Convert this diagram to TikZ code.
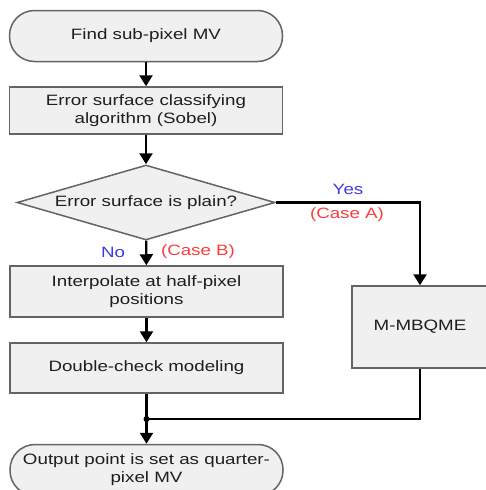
\documentclass[tikz,border=0pt]{standalone}
\usepackage{fontspec}
\setmainfont{Liberation Sans}[FakeStretch=1.25]
\usepackage{xcolor}
\usepackage{tikz}
\usetikzlibrary{shapes.geometric, arrows.meta}
\definecolor{boxFill}{RGB}{240, 240, 240}
\definecolor{boxLine}{RGB}{100, 100, 100}
\definecolor{textColor}{RGB}{30, 30, 30}
\definecolor{yesNoColor}{RGB}{60, 60, 220}
\definecolor{caseColor}{RGB}{250, 60, 60}

\begin{document}
\begin{tikzpicture}[x=1pt, y=-1pt, font=\fontsize{15}{18}\selectfont,
	box/.style={draw=boxLine, fill=boxFill, line width=1.5pt, text=textColor, align=center, inner sep=0pt},
	proc/.style={box, rectangle, minimum width=273pt},
	term/.style={box, rectangle, rounded corners=25pt, minimum width=273pt, minimum height=51pt},
	flow/.style={-{Triangle[length=11pt, width=13pt]}, line width=2.4pt},
	wire/.style={line width=2.4pt}]
					% Page size
					\useasboundingbox (0, 0) rectangle (485, 490);
					
					% Blocks of the chart
					\node[term] (start) at (146, 36) {Find sub-pixel MV};
					\node[proc, minimum height=47pt] (classify) at (146, 110.5) {Error surface classifying\\algorithm (Sobel)};
					\node[box, diamond, aspect=3.44, minimum width=258pt, minimum height=75pt] (plain) at (146, 202.5) {Error surface is plain?};
					\node[proc, minimum height=51pt] (interp) at (146.5, 291.5) {Interpolate at half-pixel\\positions};
					\node[proc, minimum height=50pt] (check) at (146.5, 368) {Double-check modeling};
					\node[box, rectangle, minimum width=136pt, minimum height=82pt] (mbqme) at (420, 327) {M-MBQME};
					\node[term] (output) at (146.5, 470) {Output point is set as quarter-\\pixel MV};
					\coordinate (join) at (146.5, 419);
					
					% Connectors
					\draw[flow] (start) -- (classify);
					\draw[flow] (classify) -- (plain);
					\draw[flow] (plain) -- (interp);
					\draw[flow] (interp) -- (check);
					\draw[flow] (plain.east) -| (mbqme.north);
					\draw[wire] (check) -- (join);
					\draw[wire] (mbqme.south) |- (join);
					\fill (join) circle (3pt);
					\draw[flow] (join) -- (output);
					
					% Branch labels
					\node[text=yesNoColor] (yes) at (348, 189) {Yes};
					\node[text=caseColor] (caseA) at (347, 215) {(Case A)};
					\node[text=yesNoColor] (no) at (113, 252) {No};
					\node[text=caseColor] (caseB) at (198, 252) {(Case B)};
\end{tikzpicture}
\end{document}
